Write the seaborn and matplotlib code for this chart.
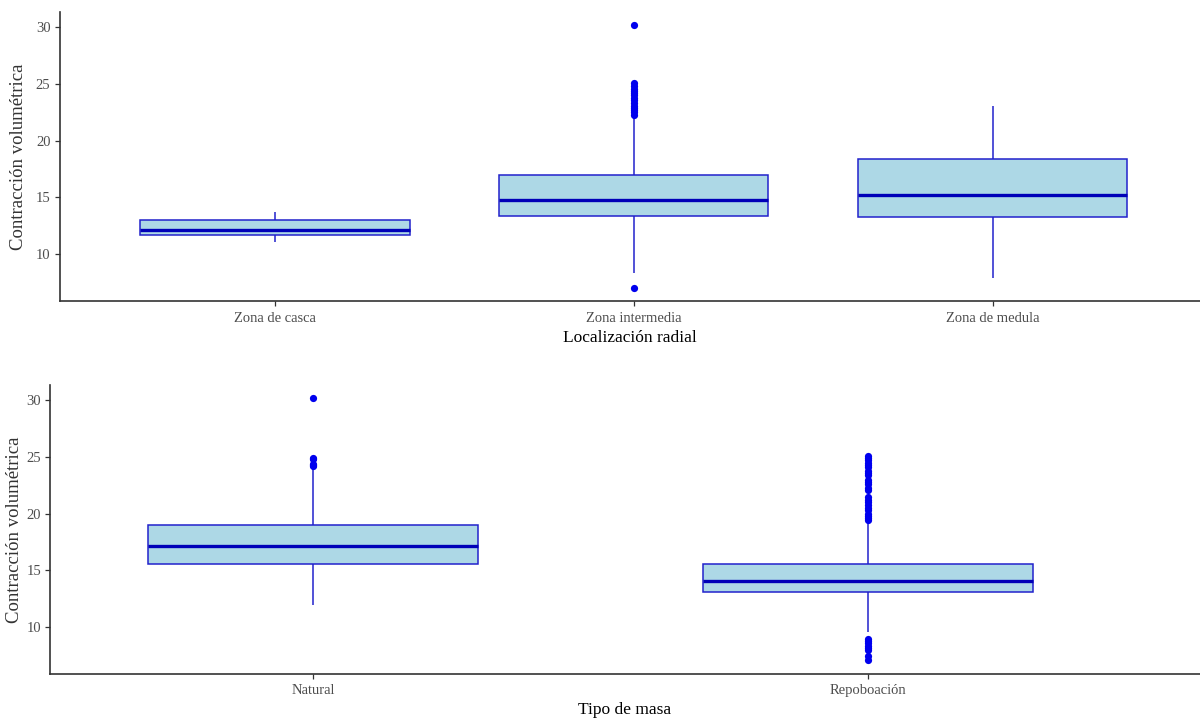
import numpy as np
import pandas as pd
import matplotlib
matplotlib.use("Agg")
import matplotlib.pyplot as plt
import seaborn as sns

# ---- Data ----
# Panel 1: Localización radial
zonas = ["Zona de casca", "Zona intermedia", "Zona de medula"]
zona_whislo = [11.06, 8.3, 7.85]
zona_q1 = [11.68, 13.39, 13.30]
zona_med = [12.12, 14.78, 15.22]
zona_q3 = [13.00, 17.00, 18.41]
zona_whishi = [13.72, 22.0, 23.04]
zona_out_casca = []
zona_out_intermedia = [22.3, 22.5, 22.7, 22.9, 23.1, 23.3, 23.6, 23.8, 24.0,
                       24.2, 24.4, 24.6, 24.8, 25.05, 30.2, 6.98]
zona_out_medula = []

# Panel 2: Tipo de masa
masas = ["Natural", "Repoboación"]
masa_whislo = [11.93, 9.58]
masa_q1 = [15.56, 13.05]
masa_med = [17.15, 14.07]
masa_q3 = [19.03, 15.56]
masa_whishi = [24.1, 19.26]
masa_out_natural = [24.2, 24.3, 24.4, 24.8, 24.93, 30.2]
masa_out_repob = [19.45, 19.6, 19.8, 20.0, 20.3, 20.5, 20.8, 21.0, 21.2, 21.5,
                  22.1, 22.3, 22.6, 22.8, 23.0, 23.4, 23.6, 23.8, 24.1, 24.3,
                  24.5, 24.7, 24.9, 25.1,
                  8.95, 8.75, 8.55, 8.35, 8.15, 7.95, 7.43, 7.08]

# ---- Style ----
sns.set_theme(style="ticks")
plt.rcParams["font.family"] = ["Liberation Serif", "DejaVu Serif"]

FILL = "#ADD8E6"
EDGE = "#2222CC"
MEDIAN = "#0000B8"
PT = "#0000EE"
SPINE = "#333333"
TICKC = "#4D4D4D"


def box_frame(cats, lo, q1, med, q3, hi):
    rows = []
    for c, a, b, m, d, e in zip(cats, lo, q1, med, q3, hi):
        for v in (a, b, m, d, e):
            rows.append({"cat": c, "val": v})
    return pd.DataFrame(rows)


def out_frame(cats, outs):
    rows = []
    for c, o in zip(cats, outs):
        for v in o:
            rows.append({"cat": c, "val": v})
    return pd.DataFrame(rows)


def draw(ax, cats, stats, outs, width, xlabel, xlim):
    df = box_frame(cats, *stats)
    sns.boxplot(data=df, x="cat", y="val", order=cats, ax=ax, whis=(0, 100),
                width=width, showfliers=False, showcaps=False,
                boxprops=dict(facecolor=FILL, edgecolor=EDGE, linewidth=1.1),
                whiskerprops=dict(color=EDGE, linewidth=1.1),
                medianprops=dict(color=MEDIAN, linewidth=2.4))
    od = out_frame(cats, outs)
    sns.stripplot(data=od, x="cat", y="val", order=cats, ax=ax, jitter=False,
                  color=PT, size=5.2, linewidth=0)
    ax.set_xlim(*xlim)
    ax.set_ylim(5.84, 31.36)
    ax.set_yticks([10, 15, 20, 25, 30])
    ax.set_xlabel(xlabel, fontsize=12.5, color="black", labelpad=3.5)
    ax.set_ylabel("Contracción volumétrica", fontsize=13.5, color="#333333")
    sns.despine(ax=ax)
    for s in ("left", "bottom"):
        ax.spines[s].set_color(SPINE)
        ax.spines[s].set_linewidth(1.2)
    ax.tick_params(axis="both", colors=SPINE, length=3.5, width=0.9,
                   labelsize=10.5, labelcolor=TICKC, pad=3)
    ax.tick_params(axis="x", pad=4.5)
    ax.set_facecolor("white")


fig = plt.figure(figsize=(12, 7.2), dpi=100)
fig.patch.set_facecolor("white")

ax1 = fig.add_axes([59.5 / 1200, 1 - 301 / 720, 1 - 59.5 / 1200, (301 - 12) / 720])
draw(ax1, zonas, (zona_whislo, zona_q1, zona_med, zona_q3, zona_whishi),
     [zona_out_casca, zona_out_intermedia, zona_out_medula], 0.75,
     "Localización radial", (-0.6, 2.577))
ax1.yaxis.set_label_coords(-0.0283, 0.5)

ax2 = fig.add_axes([50 / 1200, 1 - 674 / 720, 1 - 50 / 1200, (674 - 385) / 720])
draw(ax2, masas, (masa_whislo, masa_q1, masa_med, masa_q3, masa_whishi),
     [masa_out_natural, masa_out_repob], 0.595,
     "Tipo de masa", (-0.475, 1.599))
ax2.yaxis.set_label_coords(-0.0235, 0.5)
ax2.tick_params(axis="x", pad=3.5)

fig.savefig("out.png", dpi=100, facecolor="white")
